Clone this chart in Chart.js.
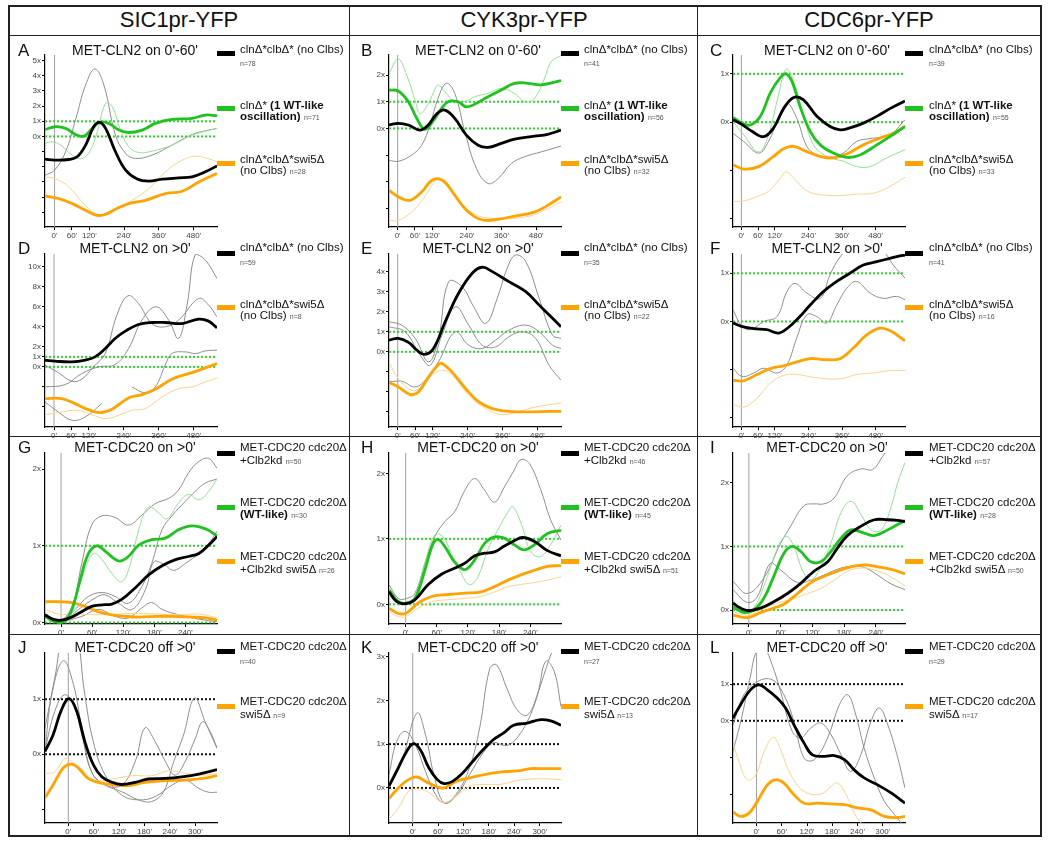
<!DOCTYPE html>
<html>
<head>
<meta charset="utf-8">
<script src="https://cdn.jsdelivr.net/npm/chart.js@4.4.1/dist/chart.umd.min.js"></script>
<style>
  body { margin: 0; background: #fff; }
  #fig { position: relative; width: 1050px; height: 842px; font-family: "Liberation Sans", Arial, sans-serif; color: #111; overflow: hidden; }
  #fig canvas { position: absolute; }
  .t { position: absolute; white-space: nowrap; }
  .rule { position: absolute; background: #222; }
  .sw { position: absolute; width: 18px; height: 5px; }
  .n { font-size: 7px; color: #555; }
</style>
</head>
<body>
<div id="fig"></div>
<script>
// x tick sets (minutes)
const xLong = [0, 60, 120, 240, 360, 480];
const xCdc = [0, 60, 120, 180, 240];
const xOff = [0, 60, 120, 180, 240, 300];

// y tick sets (fold units)
const yTicksA = [-5, -4, -3, -2, -1, 0, 1, 2, 3, 4, 5];
const yTicksB = [-3, -2, -1, 0, 1, 2];
const yTicksC = [-2, -1, 0, 1];
const yTicksD = [-4, -2, 0, 1, 2, 4, 6, 8, 10];
const yTicksE = [-3, -2, -1, 0, 1, 2, 3, 4];
const yTicksF = [-2, -1, 0, 1];
const yTicksG = [0, 1, 2];
const yTicksJ = [-1, 0, 1];
const yTicksK = [0, 1, 2, 3];
const yTicksL = [-2, -1, 0, 1];

// series: [minute, fold] pairs
const aBlack = [[-33,-1.50],[0,-1.56],[49,-1.52],[78,-1.34],[107,-0.57],[135,0.64],[155,0.93],[176,0.53],[210,-1.01],[245,-2.22],[285,-2.81],[325,-2.95],[371,-2.82],[428,-2.73],[474,-2.66],[520,-2.33],[560,-1.94]];
const aGray = [[-33,-2.56],[0,-2.22],[38,-1.01],[72,1.08],[107,3.39],[139,4.45],[170,3.39],[210,0.09],[245,-1.12],[279,-1.45],[336,-1.23],[405,-0.57],[474,0.13],[520,0.37],[560,0.53]];
const aGreen = [[-33,0.46],[3,0.64],[38,0.53],[72,0.13],[101,0.02],[130,0.53],[155,0.93],[187,0.86],[222,0.42],[256,0.26],[302,0.42],[348,0.86],[405,1.12],[474,1.19],[520,1.41],[560,1.37]];
const aGreenThin = [[-33,-0.46],[-8,-0.35],[21,-0.57],[61,-1.23],[95,-1.45],[124,-0.90],[147,0.31],[176,2.18],[199,1.96],[227,0.42],[256,-0.68],[290,-1.06],[336,-0.97],[405,-0.57],[474,0.09],[560,0.53]];
const aOrange = [[-33,-3.92],[15,-4.10],[61,-4.43],[107,-4.87],[147,-5.20],[176,-5.13],[210,-4.80],[256,-4.43],[313,-4.21],[382,-3.77],[440,-3.61],[497,-3.00],[560,-2.44]];
const aOrangeThin = [[-33,-2.67],[3,-2.78],[49,-3.33],[95,-4.32],[141,-5.09],[176,-5.20],[222,-4.65],[268,-4.21],[325,-3.44],[382,-2.33],[440,-1.56],[486,-1.30],[520,-1.41],[560,-1.67]];

const bBlack = [[-30,0.13],[2,0.19],[37,0.13],[77,-0.06],[106,0.13],[135,0.54],[163,0.69],[198,0.38],[238,-0.25],[279,-0.63],[313,-0.71],[359,-0.56],[405,-0.40],[474,-0.29],[520,-0.22],[566,-0.06]];
const bGray = [[-30,-1.19],[2,-1.23],[48,-1.00],[83,-0.63],[112,0.13],[140,1.13],[169,1.69],[198,1.31],[233,-0.13],[273,-1.50],[313,-2.06],[348,-1.88],[394,-1.31],[440,-1.06],[497,-0.88],[566,-0.66]];
const bGreen = [[-30,1.44],[2,1.40],[37,1.00],[66,0.38],[94,-0.03],[123,0.28],[152,0.75],[175,1.00],[209,1.00],[238,0.81],[273,0.94],[313,1.19],[359,1.44],[405,1.69],[451,1.69],[497,1.63],[566,1.79]];
const bGreenThin = [[-30,2.06],[2,2.60],[31,2.00],[60,1.06],[77,0.56],[100,0.81],[123,1.31],[140,1.63],[163,1.38],[198,1.00],[233,1.00],[267,1.19],[313,1.31],[359,1.50],[405,1.31],[440,1.00],[474,1.13],[509,1.88],[532,2.50],[566,2.73]];
const bOrange = [[-30,-2.31],[2,-2.56],[43,-2.69],[83,-2.38],[112,-2.00],[135,-1.88],[163,-2.00],[198,-2.50],[233,-3.00],[267,-3.31],[302,-3.44],[348,-3.40],[405,-3.28],[474,-3.13],[520,-2.88],[566,-2.56]];
const bOrangeThin = [[-30,-3.44],[2,-3.44],[48,-3.13],[89,-2.63],[123,-2.06],[140,-1.90],[169,-2.13],[204,-2.63],[244,-3.06],[290,-3.31],[348,-3.38],[417,-3.35],[474,-3.23],[520,-3.00],[566,-2.75]];

const cBlack = [[-30,0.05],[0,-0.04],[38,-0.19],[80,-0.30],[115,-0.12],[151,0.28],[187,0.51],[222,0.46],[270,0.12],[317,-0.09],[353,-0.16],[388,-0.12],[436,-0.02],[484,0.12],[531,0.28],[585,0.44]];
const cGray = [[-30,-0.23],[8,-0.40],[62,-0.64],[97,-0.40],[133,0.08],[163,0.39],[198,0.08],[234,-0.50],[270,-0.68],[317,-0.73],[365,-0.64],[412,-0.40],[460,-0.34],[531,-0.26],[585,0.05]];
const cGreen = [[-30,0.10],[2,-0.02],[32,-0.06],[68,0.12],[103,0.60],[139,0.92],[160,1.00],[181,0.84],[210,0.32],[246,-0.19],[282,-0.47],[329,-0.64],[377,-0.73],[424,-0.68],[484,-0.47],[531,-0.30],[585,-0.09]];
const cGreenThin = [[-30,0.01],[8,-0.26],[62,-0.62],[97,-0.26],[133,0.57],[160,1.10],[187,0.84],[222,0.15],[258,-0.47],[305,-0.71],[365,-0.81],[412,-0.92],[460,-0.92],[519,-0.74],[585,-0.57]];
const cOrange = [[-30,-0.88],[8,-0.97],[62,-0.92],[115,-0.71],[151,-0.55],[187,-0.50],[234,-0.61],[282,-0.71],[329,-0.74],[377,-0.66],[436,-0.47],[496,-0.33],[543,-0.23],[585,-0.09]];
const cOrangeThin = [[-30,-1.64],[8,-1.63],[56,-1.54],[97,-1.43],[139,-1.16],[160,-1.03],[187,-1.16],[234,-1.42],[282,-1.50],[353,-1.52],[412,-1.49],[472,-1.47],[531,-1.33],[585,-1.14]];

const dBlack = [[-31,0.67],[3,0.57],[61,0.50],[107,0.67],[141,1.00],[176,1.83],[210,2.83],[245,3.57],[290,4.23],[336,4.43],[382,4.43],[440,4.33],[497,4.77],[531,4.57],[560,3.90]];
const dGray1 = [[-31,0.17],[15,-0.57],[61,-1.43],[95,-1.23],[135,0.00],[176,1.33],[216,5.17],[254,7.10],[290,6.33],[336,4.33],[382,4.00],[428,4.67],[497,6.83],[531,6.17],[560,5.00]];
const dGray2 = [[-31,-2.00],[38,-1.77],[95,-0.67],[153,0.00],[210,0.23],[256,1.83],[302,4.67],[350,6.00],[394,4.67],[428,2.83],[457,6.17],[486,11.3],[520,10.67],[560,8.83]];
const dGray3 = [[-31,-3.50],[15,-4.50],[61,-5.33],[107,-5.00],[164,-3.67]];
const dGray4 = [[267,-2.00],[313,-2.57],[348,-2.00],[382,0.17],[405,1.33],[451,1.50],[486,1.33],[520,1.60],[560,1.67]];
const dOrange = [[-31,-3.17],[26,-3.17],[72,-3.67],[118,-4.27],[158,-4.57],[199,-4.23],[256,-3.10],[302,-2.77],[348,-2.23],[405,-1.23],[474,-0.57],[520,-0.10],[560,0.33]];
const dOrangeThin = [[-31,-4.77],[26,-4.50],[78,-4.33],[130,-4.77],[176,-5.17],[222,-4.83],[267,-4.33],[313,-4.17],[371,-3.00],[428,-2.17],[474,-2.00],[520,-1.50],[560,-1.10]];

const eBlack = [[-30,0.58],[2,0.67],[37,0.47],[66,0.08],[92,-0.13],[123,0.17],[163,1.50],[209,2.92],[256,3.92],[290,4.22],[325,4.00],[382,3.50],[440,3.00],[486,2.33],[532,1.67],[561,1.25]];
const eGray1 = [[-30,1.50],[14,1.33],[60,0.67],[106,-0.50],[140,0.67],[175,3.50],[221,3.25],[261,2.25],[302,1.42],[342,2.67],[376,4.17],[405,4.83],[440,4.50],[486,2.67],[532,0.83],[561,0.67]];
const eGray2 = [[-30,1.25],[25,1.00],[77,-0.17],[112,-0.67],[152,0.83],[198,2.25],[244,1.33],[290,0.33],[336,0.25],[382,0.75],[428,1.00],[474,0.67],[520,-0.67],[561,-1.42]];
const eGray3 = [[-30,-1.50],[14,-1.47],[60,-1.75],[100,-1.33],[140,-0.50],[198,1.00],[244,0.33],[290,0.17],[336,0.58],[382,1.08],[440,1.33],[486,1.00],[532,0.33],[561,0.17]];
const eOrange = [[-30,-1.53],[2,-1.75],[43,-2.13],[71,-2.00],[106,-1.25],[140,-0.63],[152,-0.58],[186,-1.00],[233,-1.83],[279,-2.50],[325,-2.83],[382,-2.97],[451,-3.00],[520,-2.97],[561,-2.97]];
const eOrangeThin = [[-30,-0.53],[2,-1.33],[48,-1.92],[83,-1.75],[117,-1.17],[158,-0.92],[198,-1.33],[244,-2.17],[302,-2.83],[359,-3.13],[417,-2.97],[474,-2.75],[561,-2.55]];

const fBlack = [[-30,-0.03],[0,-0.10],[44,-0.15],[91,-0.17],[133,-0.24],[169,-0.12],[204,0.07],[246,0.34],[293,0.62],[341,0.83],[388,1.00],[436,1.17],[484,1.24],[531,1.31],[567,1.36],[585,1.38]];
const fGray1 = [[-30,0.24],[2,-0.10],[32,-0.17],[80,0.00],[127,0.10],[163,0.62],[192,0.79],[234,0.59],[282,0.48],[317,0.97],[353,1.34],[388,1.52],[448,1.55],[507,1.45],[543,1.17],[585,0.90]];
const fGray2 = [[-30,-0.97],[2,-1.14],[44,-1.07],[80,-0.97],[127,-1.07],[163,-0.90],[198,-0.34],[234,0.14],[270,0.10],[305,-0.03],[341,0.34],[377,0.69],[412,0.83],[460,0.59],[507,0.48],[555,0.52],[585,0.45]];
const fOrange = [[-30,-1.22],[8,-1.23],[56,-1.10],[103,-0.98],[151,-0.92],[198,-0.84],[246,-0.77],[293,-0.79],[353,-0.77],[400,-0.55],[448,-0.28],[496,-0.14],[531,-0.19],[585,-0.40]];
const fOrangeThin = [[-30,-1.72],[8,-1.78],[56,-1.59],[103,-1.28],[151,-1.12],[198,-1.10],[270,-1.17],[353,-1.19],[412,-1.10],[472,-1.07],[531,-1.02],[585,-1.02]];

const gBlack = [[-31,0.10],[-15,0.04],[1,0.03],[17,0.06],[37,0.13],[59,0.21],[79,0.23],[98,0.24],[117,0.30],[143,0.45],[169,0.62],[195,0.74],[221,0.82],[246,0.86],[266,0.90],[285,1.01],[301,1.12]];
const gGreen = [[-31,0.08],[-12,0.01],[5,0.01],[21,0.17],[37,0.56],[53,0.90],[69,1.00],[85,0.93],[101,0.84],[114,0.80],[130,0.86],[150,1.01],[175,1.08],[201,1.10],[227,1.21],[253,1.26],[279,1.22],[301,1.13]];
const gGreenThin = [[-31,0.06],[-12,0.01],[8,0.03],[27,0.30],[46,0.69],[63,0.90],[79,0.82],[98,0.64],[117,0.53],[134,0.77],[150,1.21],[169,1.51],[188,1.43],[204,1.35],[227,1.56],[246,1.67],[266,1.60],[285,1.71],[301,1.87]];
const gGray1 = [[-31,0.08],[-5,0.01],[21,0.21],[40,0.77],[59,1.27],[79,1.39],[104,1.37],[130,1.27],[156,1.40],[182,1.55],[208,1.62],[227,1.73],[246,1.95],[266,2.10],[285,2.14],[301,2.01]];
const gGray2 = [[-31,0.10],[1,0.02],[27,0.17],[53,0.34],[79,0.39],[104,0.34],[130,0.25],[156,0.47],[175,0.77],[195,1.21],[214,1.39],[240,1.58],[259,1.71],[279,1.82],[301,1.87]];
const gGray3 = [[-31,0.08],[1,0.01],[34,0.17],[66,0.32],[85,0.36],[111,0.25],[137,0.17],[163,0.43],[179,0.79],[198,0.76],[217,0.68],[240,0.77],[266,0.90],[285,1.03],[301,1.19]];
const gGray4 = [[-31,0.08],[1,0.02],[40,0.08],[72,0.17],[104,0.08],[130,0.06],[156,0.19],[175,0.26],[195,0.17],[227,0.10],[253,0.06],[279,0.03],[301,0.01]];
const gOrange = [[-31,0.27],[-5,0.27],[21,0.26],[46,0.21],[72,0.14],[98,0.10],[124,0.08],[150,0.07],[182,0.08],[214,0.08],[253,0.07],[279,0.06],[301,0.03]];
const gOrangeThin = [[-31,0.17],[-5,0.11],[34,0.11],[72,0.10],[111,0.11],[150,0.12],[188,0.11],[227,0.10],[266,0.11],[301,0.06]];

const hBlack = [[-32,0.19],[-17,0.04],[0,0.01],[18,0.07],[43,0.30],[69,0.46],[94,0.55],[114,0.63],[133,0.74],[152,0.78],[171,0.80],[190,0.89],[209,0.97],[225,1.02],[248,0.96],[273,0.82],[299,0.74]];
const hGray = [[-32,0.30],[-14,0.09],[2,0.09],[18,0.17],[37,0.62],[56,1.03],[75,1.26],[94,1.41],[114,1.74],[133,1.92],[152,1.74],[171,1.56],[190,1.79],[209,2.05],[222,2.21],[238,2.15],[260,1.75],[279,1.29],[299,0.98]];
const hGreen = [[-32,0.22],[-14,0.04],[2,0.02],[18,0.09],[37,0.52],[53,0.93],[63,0.99],[78,0.85],[94,0.65],[114,0.53],[133,0.68],[152,0.93],[171,1.03],[190,1.01],[209,0.91],[228,0.83],[248,0.91],[273,1.08],[299,1.13]];
const hGreenThin = [[-32,0.21],[-14,0.04],[2,0.03],[18,0.12],[37,0.63],[56,1.06],[72,1.03],[88,0.78],[107,0.47],[123,0.30],[139,0.42],[158,0.83],[177,1.13],[197,1.41],[206,1.49],[222,1.24],[241,0.80],[260,0.73],[279,0.91],[299,1.21]];
const hOrange = [[-32,-0.06],[-14,-0.14],[2,-0.13],[24,0.02],[50,0.12],[82,0.15],[114,0.17],[145,0.19],[171,0.27],[197,0.37],[222,0.45],[248,0.52],[273,0.58],[299,0.59]];
const hOrangeThin = [[-32,-0.11],[-14,-0.19],[2,-0.18],[24,-0.06],[50,0.04],[82,0.07],[114,0.09],[145,0.12],[171,0.19],[197,0.27],[228,0.31],[260,0.35],[299,0.42]];

const iBlack = [[-30,0.11],[-16,0.03],[0,-0.01],[22,0.03],[47,0.13],[73,0.26],[98,0.42],[123,0.61],[149,0.76],[167,0.97],[186,1.17],[212,1.32],[237,1.42],[262,1.42],[281,1.41],[295,1.39]];
const iGray1 = [[-30,0.45],[-3,0.26],[28,0.50],[60,1.05],[79,1.32],[104,1.64],[123,1.67],[142,1.67],[161,1.76],[186,2.11],[212,2.22],[234,2.21],[253,2.42],[265,2.55]];
const iGray2 = [[-30,0.32],[-3,0.12],[16,0.21],[40,0.73],[60,0.63],[92,0.43],[117,0.47],[142,0.55],[167,0.64],[193,0.69],[218,0.67],[243,0.55],[269,0.41],[295,0.32]];
const iGreen = [[-30,0.05],[-9,-0.04],[9,0.00],[28,0.18],[47,0.53],[66,0.89],[82,1.00],[98,0.92],[117,0.76],[136,0.76],[155,0.92],[174,1.13],[193,1.26],[218,1.21],[237,1.17],[262,1.26],[295,1.41]];
const iGreenThin = [[-30,0.03],[-9,-0.04],[9,0.03],[28,0.37],[54,0.97],[70,1.16],[85,1.00],[101,0.63],[117,0.47],[136,0.68],[155,1.05],[174,1.53],[193,1.71],[212,1.50],[231,1.26],[250,1.26],[269,1.63],[281,2.00],[295,2.32]];
const iOrange = [[-30,-0.08],[-3,-0.12],[22,-0.04],[47,0.03],[66,0.09],[92,0.26],[117,0.43],[142,0.53],[167,0.61],[193,0.68],[218,0.71],[243,0.68],[269,0.64],[295,0.57]];
const iOrangeThin = [[-30,-0.03],[-3,-0.08],[22,0.00],[54,0.11],[85,0.18],[111,0.26],[136,0.34],[161,0.47],[186,0.61],[212,0.66],[237,0.63],[262,0.55],[295,0.38]];

const jBlack = [[-55,0.05],[-36,0.35],[-16,0.81],[2,1.01],[20,0.78],[39,0.23],[59,-0.19],[79,-0.41],[103,-0.51],[126,-0.55],[158,-0.51],[189,-0.45],[229,-0.44],[268,-0.41],[308,-0.36],[351,-0.28]];
const jGray1 = [[-55,0.05],[-39,1.08],[-12,1.70],[12,1.27],[32,0.47],[55,-0.32],[87,-0.56],[126,-0.68],[166,-0.83],[197,-0.86],[225,-0.68],[249,-0.13],[272,0.35],[298,1.02],[323,0.59],[351,0.11]];
const jGray2 = [[-55,0.08],[-32,0.78],[-9,1.08],[12,0.90],[32,0.35],[55,-0.32],[87,-0.56],[126,-0.56],[158,-0.13],[181,0.48],[205,0.23],[229,-0.13],[252,-0.38],[276,-0.13],[300,0.29],[317,0.59],[335,0.41],[351,0.11]];
const jGray3 = [[-55,0.47],[-32,1.38],[-8,2.30],[16,2.30],[39,1.08],[59,0.23],[87,-0.38],[126,-0.74],[166,-0.83],[205,-0.77],[245,-0.56],[276,-0.47],[308,-0.62],[331,-0.69],[351,-0.69]];
const jOrange = [[-55,-0.79],[-36,-0.56],[-12,-0.25],[8,-0.18],[28,-0.28],[47,-0.44],[71,-0.51],[103,-0.55],[142,-0.57],[181,-0.51],[229,-0.48],[276,-0.47],[316,-0.44],[351,-0.39]];
const jOrangeThin = [[-55,-0.35],[-32,-0.32],[-8,-0.08],[12,-0.16],[35,-0.38],[63,-0.48],[103,-0.45],[150,-0.39],[197,-0.39],[237,-0.30],[276,-0.35],[316,-0.38],[351,-0.35]];

const kBlack = [[-56,0.04],[-34,0.46],[-14,0.84],[2,1.01],[18,0.87],[38,0.46],[58,0.19],[74,0.10],[94,0.15],[118,0.34],[142,0.61],[166,0.87],[190,1.10],[214,1.25],[238,1.43],[270,1.48],[302,1.56],[326,1.53],[350,1.43]];
const kGray1 = [[-56,0.30],[-38,1.06],[-18,1.29],[6,0.99],[30,0.38],[54,-0.15],[74,-0.34],[102,-0.15],[134,0.46],[158,1.37],[182,2.73],[198,2.81],[222,2.28],[246,1.79],[270,1.66],[294,2.13],[314,2.89],[334,2.66],[350,1.86]];
const kGray2 = [[-56,0.08],[-26,0.61],[10,1.71],[30,1.22],[50,0.30],[74,-0.34],[102,-0.19],[134,0.30],[166,0.80],[190,1.03],[222,0.97],[246,1.14],[278,1.67],[302,2.35],[326,3.04],[340,3.30]];
const kOrange = [[-56,-0.24],[-34,0.00],[-10,0.19],[10,0.25],[30,0.15],[54,0.04],[74,0.00],[102,0.15],[134,0.23],[166,0.30],[206,0.36],[246,0.39],[278,0.44],[310,0.44],[350,0.44]];
const kOrangeThin = [[-56,-0.72],[-34,-0.46],[-10,-0.08],[10,-0.02],[34,-0.08],[54,-0.23],[74,-0.34],[102,-0.19],[134,0.04],[166,0.08],[206,0.08],[246,0.17],[294,0.21],[350,0.19]];

const lBlack = [[-56,0.07],[-38,0.44],[-14,0.85],[6,0.98],[25,0.85],[49,0.62],[69,0.35],[89,-0.11],[113,-0.61],[133,-0.93],[161,-0.97],[185,-0.95],[209,-1.06],[232,-1.34],[256,-1.56],[288,-1.75],[320,-1.97],[353,-2.25]];
const lGray1 = [[-56,-0.84],[-34,0.16],[-14,1.25],[0,1.89],[18,1.98],[37,1.53],[57,0.80],[85,-0.29],[105,-0.47],[129,-0.20],[153,-0.06],[177,-0.38],[201,-0.93],[224,-1.38],[248,-0.93],[272,-0.02],[292,0.35],[312,-0.11],[336,-1.02],[353,-1.84]];
const lGray2 = [[-56,-0.11],[-30,0.71],[2,1.07],[37,1.12],[65,0.71],[89,-0.02],[113,-1.02],[137,-1.06],[169,-0.47],[197,0.44],[217,0.71],[236,0.16],[256,-0.75],[280,-1.56],[304,-2.20],[328,-2.56],[344,-2.79],[353,-2.90]];
const lOrange = [[-56,-2.49],[-38,-2.61],[-18,-2.52],[2,-2.20],[25,-1.76],[45,-1.61],[65,-1.70],[89,-2.02],[113,-2.25],[145,-2.25],[177,-2.27],[209,-2.29],[240,-2.38],[272,-2.43],[304,-2.61],[336,-2.64],[353,-2.61]];
const lOrangeThin = [[-56,-0.61],[-42,-1.11],[-22,-1.61],[-2,-1.47],[18,-0.84],[40,-0.45],[57,-0.79],[81,-1.47],[113,-1.93],[153,-2.00],[177,-1.79],[193,-1.70],[213,-2.02],[232,-2.52],[252,-2.84],[265,-3.00]];

// cell counts in the legends
const nRow1 = [[78, 71, 28], [41, 56, 32], [39, 55, 33]];
const nRow2 = [[59, 8], [35, 22], [41, 16]];
const nRow3 = [[50, 30, 26], [46, 45, 51], [57, 28, 50]];
const nRow4 = [[40, 9], [27, 13], [29, 17]];

const colHeads = ['SIC1pr-YFP', 'CYK3pr-YFP', 'CDC6pr-YFP'];

// ---- layout ----
const COL0 = [5, 348, 697];          // column origins
const AREA_L = [45, 389, 733];       // chart-area left edge per column
const AREA_W = 172;
const ROWS = [[55, 227], [254, 427], [453, 624], [653, 823]];
const TITLE_Y = [50, 248, 447, 647];
const PADL = 32, PADR = 4, PADT = 4, PADB = 16;

const STY = {
  black:      { c: '#000000', w: 2.8, o: 1 },
  green:      { c: '#1fc21f', w: 2.8, o: 2 },
  orange:     { c: '#ffa302', w: 2.8, o: 3 },
  greenThin:  { c: '#92e292', w: 1,   o: 5 },
  orangeThin: { c: '#ffd28e', w: 1,   o: 5 },
  gray:       { c: '#8e8e8e', w: 1,   o: 6 },
};

const panels = [
  { L: 'A', col: 0, row: 0, title: "MET-CLN2 on 0'-60'", x: [-33, 560], y: [-5.97, 5.37], yt: yTicksA, xt: xLong, ref: '#2bd82b',
    lines: [[aBlack,'black'],[aGreen,'green'],[aOrange,'orange'],[aGray,'gray'],[aGreenThin,'greenThin'],[aOrangeThin,'orangeThin']] },
  { L: 'B', col: 1, row: 0, title: "MET-CLN2 on 0'-60'", x: [-30, 566], y: [-3.69, 2.75], yt: yTicksB, xt: xLong, ref: '#2bd82b',
    lines: [[bBlack,'black'],[bGreen,'green'],[bOrange,'orange'],[bGray,'gray'],[bGreenThin,'greenThin'],[bOrangeThin,'orangeThin']] },
  { L: 'C', col: 2, row: 0, title: "MET-CLN2 on 0'-60'", x: [-30, 585], y: [-2.17, 1.39], yt: yTicksC, xt: xLong, ref: '#2bd82b',
    lines: [[cBlack,'black'],[cGreen,'green'],[cOrange,'orange'],[cGray,'gray'],[cGreenThin,'greenThin'],[cOrangeThin,'orangeThin']] },
  { L: 'D', col: 0, row: 1, title: "MET-CLN2 on >0'", x: [-31, 560], y: [-6.0, 11.27], yt: yTicksD, xt: xLong, ref: '#2bd82b',
    lines: [[dBlack,'black'],[dOrange,'orange'],[dGray1,'gray'],[dGray2,'gray'],[dGray3,'gray'],[dGray4,'gray'],[dOrangeThin,'orangeThin']] },
  { L: 'E', col: 1, row: 1, title: "MET-CLN2 on >0'", x: [-30, 561], y: [-3.75, 4.88], yt: yTicksE, xt: xLong, ref: '#2bd82b',
    lines: [[eBlack,'black'],[eOrange,'orange'],[eGray1,'gray'],[eGray2,'gray'],[eGray3,'gray'],[eOrangeThin,'orangeThin']] },
  { L: 'F', col: 2, row: 1, title: "MET-CLN2 on >0'", x: [-30, 585], y: [-2.19, 1.40], yt: yTicksF, xt: xLong, ref: '#2bd82b',
    lines: [[fBlack,'black'],[fOrange,'orange'],[fGray1,'gray'],[fGray2,'gray'],[fOrangeThin,'orangeThin']] },
  { L: 'G', col: 0, row: 2, title: "MET-CDC20 on >0'", x: [-31, 301], y: [-0.02, 2.21], yt: yTicksG, xt: xCdc, ref: '#2bd82b',
    lines: [[gBlack,'black'],[gGreen,'green'],[gOrange,'orange'],[gGray1,'gray'],[gGray2,'gray'],[gGray3,'gray'],[gGray4,'gray'],[gGreenThin,'greenThin'],[gOrangeThin,'orangeThin']] },
  { L: 'H', col: 1, row: 2, title: "MET-CDC20 on >0'", x: [-32, 299], y: [-0.30, 2.31], yt: yTicksG, xt: xCdc, ref: '#2bd82b',
    lines: [[hBlack,'black'],[hGreen,'green'],[hOrange,'orange'],[hGray,'gray'],[hGreenThin,'greenThin'],[hOrangeThin,'orangeThin']] },
  { L: 'I', col: 2, row: 2, title: "MET-CDC20 on >0'", x: [-30, 295], y: [-0.22, 2.47], yt: yTicksG, xt: xCdc, ref: '#2bd82b',
    lines: [[iBlack,'black'],[iGreen,'green'],[iOrange,'orange'],[iGray1,'gray'],[iGray2,'gray'],[iGreenThin,'greenThin'],[iOrangeThin,'orangeThin']] },
  { L: 'J', col: 0, row: 3, title: "MET-CDC20 off >0'", x: [-55, 351], y: [-1.25, 1.84], yt: yTicksJ, xt: xOff, ref: '#111111',
    lines: [[jBlack,'black'],[jOrange,'orange'],[jGray1,'gray'],[jGray2,'gray'],[jGray3,'gray'],[jOrangeThin,'orangeThin']] },
  { L: 'K', col: 1, row: 3, title: "MET-CDC20 off >0'", x: [-56, 350], y: [-0.80, 3.08], yt: yTicksK, xt: xOff, ref: '#111111',
    lines: [[kBlack,'black'],[kOrange,'orange'],[kGray1,'gray'],[kGray2,'gray'],[kOrangeThin,'orangeThin']] },
  { L: 'L', col: 2, row: 3, title: "MET-CDC20 off >0'", x: [-56, 353], y: [-2.79, 1.85], yt: yTicksL, xt: xOff, ref: '#111111',
    lines: [[lBlack,'black'],[lOrange,'orange'],[lGray1,'gray'],[lGray2,'gray'],[lOrangeThin,'orangeThin']] },
];

// legend entries per row: [line1 y, swatch y, line2 y, colour, line1, line2 prefix]
const SW = { black: '#000', green: '#1fc21f', orange: '#ffa302' };
const legendRows = [
  { n: nRow1, items: [
    [50, 53, 63, SW.black, 'cln&Delta;*clb&Delta;* (no Clbs)', ''],
    [106, 108, 116.5, SW.green, 'cln&Delta;* <b>(1 WT-like</b>', '<b>oscillation)</b> '],
    [160, 163, 171, SW.orange, 'cln&Delta;*clb&Delta;*swi5&Delta;', '(no Clbs) '] ] },
  { n: nRow2, items: [
    [248, 253, 262, SW.black, 'cln&Delta;*clb&Delta;* (no Clbs)', ''],
    [305, 307.5, 316, SW.orange, 'cln&Delta;*clb&Delta;*swi5&Delta;', '(no Clbs) '] ] },
  { n: nRow3, items: [
    [448, 453, 461, SW.black, 'MET-CDC20 cdc20&Delta;', '+Clb2kd '],
    [503, 507, 515, SW.green, 'MET-CDC20 cdc20&Delta;', '<b>(WT-like)</b> '],
    [557, 561, 569.5, SW.orange, 'MET-CDC20 cdc20&Delta;', '+Clb2kd swi5&Delta; '] ] },
  { n: nRow4, items: [
    [647, 651, 661, SW.black, 'MET-CDC20 cdc20&Delta;', ''],
    [702, 706, 715, SW.orange, 'MET-CDC20 cdc20&Delta;', 'swi5&Delta; '] ] },
];

const fig = document.getElementById('fig');

function addText(x, yc, html, size, center) {
  const d = document.createElement('div');
  d.className = 't';
  d.innerHTML = html;
  d.style.fontSize = size + 'px';
  d.style.lineHeight = size + 'px';
  d.style.top = (yc - size / 2) + 'px';
  d.style.left = x + 'px';
  if (center) d.style.transform = 'translateX(-50%)';
  fig.appendChild(d);
  return d;
}
function addRule(x, y, w, h) {
  const d = document.createElement('div');
  d.className = 'rule';
  Object.assign(d.style, { left: x + 'px', top: y + 'px', width: w + 'px', height: h + 'px' });
  fig.appendChild(d);
}

// frame
addRule(8, 5, 1034, 1.5);
addRule(8, 835, 1034, 1.5);
addRule(8, 5, 1.5, 831);
addRule(1040, 5, 1.5, 831);
addRule(8, 35, 1034, 1.2);
addRule(8, 436, 1034, 1.2);
addRule(8, 634, 1034, 1.2);
addRule(349, 5, 1.2, 831);
addRule(697, 5, 1.2, 831);

colHeads.forEach((h, i) => addText([179, 524, 869][i], 20, h, 22, true));

const pts = arr => arr.map(([x, y]) => ({ x, y }));

function makePanel(p) {
  const left = AREA_L[p.col], [top, bot] = ROWS[p.row];
  const w = AREA_W + PADL + PADR, h = (bot - top) + PADT + PADB;
  const cv = document.createElement('canvas');
  cv.width = w; cv.height = h;
  Object.assign(cv.style, { left: (left - PADL) + 'px', top: (top - PADT) + 'px', width: w + 'px', height: h + 'px' });
  fig.appendChild(cv);

  const ds = p.lines.map(([d, k]) => ({
    data: pts(d), borderColor: STY[k].c, borderWidth: STY[k].w, order: STY[k].o,
    tension: 0.4, pointRadius: 0, fill: false,
  }));
  [0, 1].forEach(v => ds.push({
    data: [{ x: p.x[0], y: v }, { x: p.x[1], y: v }], borderColor: p.ref, borderWidth: 2,
    borderDash: [2, 2], pointRadius: 0, order: 8,
  }));
  ds.push({ data: [{ x: 0, y: p.y[0] }, { x: 0, y: p.y[1] }], borderColor: '#a0a0a0', borderWidth: 1, pointRadius: 0, order: 9 });

  const tickFont = { size: 8, family: '"Liberation Sans", Arial, sans-serif' };
  const fixPad = s => { s.paddingLeft = s.paddingRight = s.paddingTop = s.paddingBottom = 0; };

  new Chart(cv, {
    type: 'line',
    data: { datasets: ds },
    options: {
      responsive: false, animation: false, events: [],
      layout: { autoPadding: false, padding: { left: 0, right: PADR, top: PADT, bottom: 0 } },
      plugins: { legend: { display: false }, tooltip: { enabled: false } },
      scales: {
        x: {
          type: 'linear', min: p.x[0], max: p.x[1],
          afterBuildTicks: s => { s.ticks = p.xt.map(v => ({ value: v })); },
          afterFit: s => { s.height = PADB; fixPad(s); },
          ticks: { callback: v => v + "'", font: tickFont, color: '#444', padding: 1, maxRotation: 0, autoSkip: false },
          grid: { drawOnChartArea: false, tickLength: 3, color: '#000' },
          border: { color: '#000', width: 1.2 },
        },
        y: {
          type: 'linear', min: p.y[0], max: p.y[1],
          afterBuildTicks: s => { s.ticks = p.yt.map(v => ({ value: v })); },
          afterFit: s => { s.width = PADL; fixPad(s); },
          ticks: { callback: v => (v >= 0 ? v + 'x' : ''), font: tickFont, color: '#444', padding: 1, autoSkip: false },
          grid: { drawOnChartArea: false, tickLength: 3, color: '#000' },
          border: { color: '#000', width: 1.2 },
        },
      },
    },
  });

  addText(COL0[p.col] + 13, TITLE_Y[p.row], p.L, 17, false);
  addText(COL0[p.col] + 130, TITLE_Y[p.row], p.title, 14, true);
}
panels.forEach(makePanel);

// legends
const SW_X = [217, 561, 905], TX_X = [240, 584, 929];
legendRows.forEach(r => {
  for (let c = 0; c < 3; c++) {
    r.items.forEach((it, k) => {
      const [y1, ys, y2, col, l1, l2] = it;
      const s = document.createElement('div');
      s.className = 'sw';
      Object.assign(s.style, { left: SW_X[c] + 'px', top: (ys - 2.5) + 'px', background: col });
      fig.appendChild(s);
      addText(TX_X[c], y1, l1, 11.5, false);
      addText(TX_X[c], y2, l2 + '<span class="n">n=' + r.n[c][k] + '</span>', 11.5, false);
    });
  }
});
</script>
</body>
</html>
